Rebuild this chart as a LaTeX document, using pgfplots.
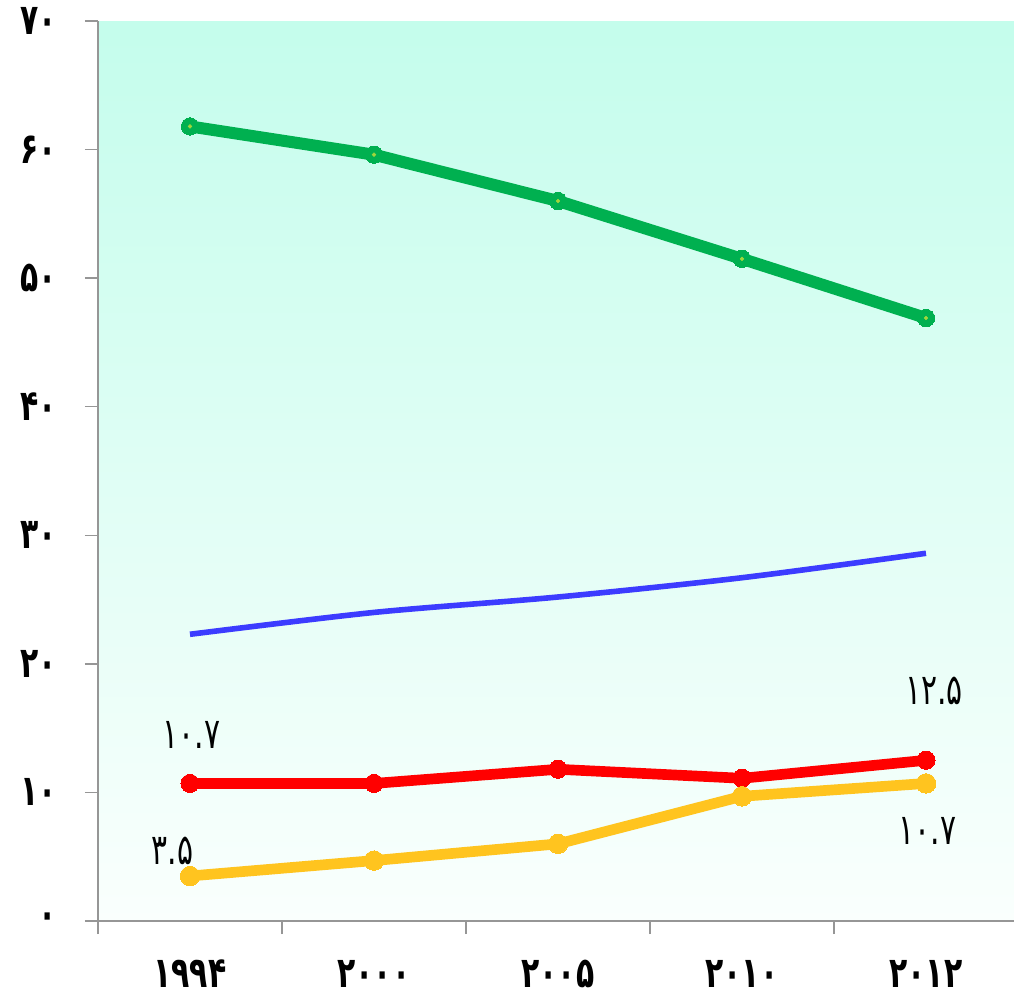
\documentclass[border=0pt]{standalone}
\usepackage{fontspec}
\usepackage{pgfplots}
\pgfplotsset{compat=1.18}
\newfontfamily\fa[Script=Arabic, FakeStretch=0.7]{DejaVu Sans}
\definecolor{bgtop}{RGB}{196,253,236}
\definecolor{bgbot}{RGB}{250,255,253}
\definecolor{cgreen}{RGB}{0,176,80}
\definecolor{cgdot}{RGB}{160,214,60}
\definecolor{cyellow}{RGB}{255,196,31}
\definecolor{cblue}{RGB}{60,60,255}
\definecolor{axgray}{RGB}{150,150,150}
\begin{document}
\begin{tikzpicture}
\begin{axis}[
  at={(0,0)}, anchor=south west,
  scale only axis, width=690pt, height=675pt,
  xmin=0, xmax=5, ymin=0, ymax=70,
  axis x line=bottom, axis y line=left,
  axis line style={axgray, line width=1.2pt, -},
  axis background/.style={shade, top color=bgtop, bottom color=bgbot},
  tick style={axgray, line width=1.1pt},
  tick align=outside, major tick length=9.75pt,
  xtick={0,...,5}, x tick label as interval,
  xticklabels={۱۹۹۴,۲۰۰۰,۲۰۰۵,۲۰۱۰,۲۰۱۲},
  ytick={0,10,...,70},
  yticklabels={۰,۱۰,۲۰,۳۰,۴۰,۵۰,۶۰,۷۰},
  ticklabel style={font=\fontsize{32}{36}\selectfont\fa\bfseries, text=black},
  xticklabel style={yshift=-16pt},
  yticklabel style={xshift=-17.5pt},
  clip=false,
]
\addplot[cblue, line width=4.2pt, smooth] coordinates {(0.5,22.3) (1.5,24.0) (2.5,25.2) (3.5,26.7) (4.5,28.6)};
\addplot[cgreen, line width=9pt, line join=round, mark=*, mark size=6.5pt, mark options={fill=cgreen, draw=cgreen, line width=0pt}] coordinates {(0.5,61.8) (1.5,59.6) (2.5,56.0) (3.5,51.5) (4.5,46.9)};
\addplot[only marks, mark=*, mark size=1.4pt, mark options={fill=cgdot, draw=cgdot}] coordinates {(0.5,61.8) (1.5,59.6) (2.5,56.0) (3.5,51.5) (4.5,46.9)};
\addplot[red, line width=8pt, line join=round, mark=*, mark size=6.8pt, mark options={fill=red, draw=red, line width=0pt}] coordinates {(0.5,10.7) (1.5,10.7) (2.5,11.8) (3.5,11.1) (4.5,12.5)};
\addplot[cyellow, line width=8pt, line join=round, mark=*, mark size=7.3pt, mark options={fill=cyellow, draw=cyellow, line width=0pt}] coordinates {(0.5,3.5) (1.5,4.7) (2.5,6.0) (3.5,9.7) (4.5,10.7)};
\node[font=\fontsize{32}{36}\selectfont\fa] at (axis cs:0.5,10.7) [yshift=36pt, xshift=1pt] {۱۰.۷};
\node[font=\fontsize{32}{36}\selectfont\fa] at (axis cs:0.5,3.5) [yshift=19pt, xshift=-13pt] {۳.۵};
\node[font=\fontsize{32}{36}\selectfont\fa] at (axis cs:4.5,12.5) [yshift=52pt, xshift=6pt] {۱۲.۵};
\node[font=\fontsize{32}{36}\selectfont\fa] at (axis cs:4.5,10.7) [yshift=-36pt, xshift=1pt] {۱۰.۷};
\end{axis}
\pgfresetboundingbox
\path[use as bounding box] (-73.5pt,-57pt) rectangle (687pt,690.75pt);
\end{tikzpicture}
\end{document}
